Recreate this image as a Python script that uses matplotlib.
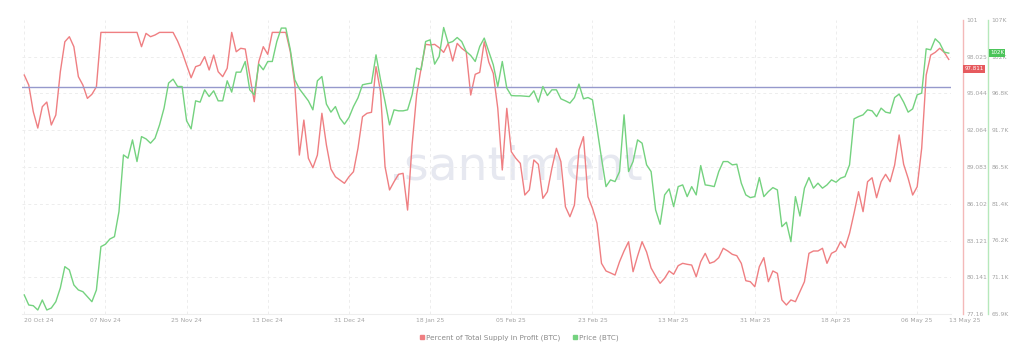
import matplotlib
matplotlib.use("Agg")
import matplotlib.pyplot as plt
from matplotlib.lines import Line2D
import pandas as pd

# ---------------- data ----------------
start_date = "2024-10-20"
n_days = 206

profit_pct = [
    96.54, 95.73, 93.57, 92.24, 93.97, 94.35, 92.49, 93.30, 96.81, 99.24,
    99.65, 98.84, 96.41, 95.73, 94.65, 94.98, 95.59, 100.0, 100.0, 100.0,
    100.0, 100.0, 100.0, 100.0, 100.0, 100.0, 98.84, 99.92, 99.65, 99.79,
    100.0, 100.0, 100.0, 100.0, 99.30, 98.41, 97.35, 96.32, 97.22, 97.35,
    98.03, 96.95, 98.16, 96.81, 96.41, 97.09, 100.0, 98.43, 98.71, 98.65,
    96.54, 94.38, 97.62, 98.84, 98.22, 100.0, 100.0, 100.0, 100.0, 98.43,
    95.73, 90.05, 92.89, 89.79, 89.02, 90.05, 93.44, 90.87, 88.92, 88.29,
    88.03, 87.76, 88.29, 88.70, 90.60, 93.16, 93.44, 93.52, 97.22, 95.19,
    89.11, 87.22, 87.89, 88.49, 88.57, 85.59, 90.87, 94.92, 97.09, 99.03,
    98.98, 99.03, 98.76, 98.38, 99.11, 97.68, 99.11, 98.71, 98.43, 94.92,
    96.60, 96.76, 99.24, 97.60, 96.68, 93.84, 88.84, 93.84, 90.32, 89.79,
    89.38, 86.81, 87.22, 89.65, 89.30, 86.54, 87.08, 88.98, 90.60, 89.51,
    85.86, 85.05, 86.00, 90.46, 91.54, 86.67, 85.73, 84.52, 81.27, 80.65,
    80.49, 80.32, 81.40, 82.27, 83.02, 80.59, 81.86, 83.02, 82.19, 80.89,
    80.24, 79.65, 80.06, 80.65, 80.38, 81.08, 81.27, 81.19, 81.13, 80.18,
    81.40, 82.08, 81.27, 81.40, 81.73, 82.49, 82.27, 82.00, 81.89, 81.27,
    79.86, 79.78, 79.37, 81.00, 81.73, 79.78, 80.65, 80.46, 78.30, 77.89,
    78.30, 78.16, 78.97, 79.78, 82.08, 82.27, 82.27, 82.49, 81.27, 82.08,
    82.27, 83.02, 82.54, 83.70, 85.33, 87.08, 85.46, 87.89, 88.21, 86.59,
    87.89, 88.49, 87.89, 89.24, 91.68, 89.30, 88.16, 86.81, 87.48, 90.60,
    96.54, 98.16, 98.38, 98.71, 98.38, 97.81,
]

price_k = [
    68.56, 67.16, 67.06, 66.46, 67.86, 66.46, 66.74, 67.62, 69.54, 72.52,
    72.06, 69.96, 69.26, 69.02, 68.32, 67.62, 69.26, 75.32, 75.65, 76.39,
    76.71, 80.21, 88.14, 87.68, 90.24, 87.21, 90.70, 90.38, 89.78, 90.48,
    92.34, 94.68, 98.18, 98.73, 97.70, 97.70, 92.90, 91.78, 95.70, 95.52,
    97.24, 96.30, 97.10, 95.70, 95.70, 98.50, 96.92, 99.71, 99.71, 101.20,
    97.24, 96.54, 100.83, 100.04, 101.20, 101.20, 103.99, 105.87, 105.87, 102.83,
    98.64, 97.38, 96.54, 95.70, 94.44, 98.50, 99.10, 95.24, 94.12, 94.90,
    93.28, 92.44, 93.36, 94.90, 96.12, 97.94, 98.08, 98.18, 102.13, 98.64,
    95.60, 92.34, 94.44, 94.30, 94.30, 94.44, 96.54, 100.27, 100.04, 103.99,
    104.23, 100.83, 101.90, 105.95, 103.77, 103.99, 104.55, 103.99, 102.60, 102.04,
    101.20, 103.30, 104.47, 102.60, 100.74, 97.70, 101.20, 97.48, 96.44, 96.40,
    96.40, 96.35, 96.30, 97.10, 95.52, 97.70, 96.44, 97.24, 97.24, 95.98,
    95.70, 95.38, 96.16, 98.04, 95.98, 96.16, 95.84, 91.88, 87.68, 83.71,
    84.65, 84.41, 85.81, 93.74, 85.81, 87.21, 90.24, 89.78, 86.75, 85.81,
    80.45, 78.45, 82.55, 83.39, 80.91, 83.71, 83.95, 82.31, 83.71, 82.55,
    86.65, 83.95, 83.85, 83.71, 85.81, 87.21, 87.21, 86.75, 86.84, 84.19,
    82.55, 82.17, 82.31, 84.97, 82.31, 83.01, 83.57, 83.25, 78.11, 78.73,
    76.01, 82.31, 79.60, 83.49, 84.97, 83.49, 84.19, 83.49, 83.95, 84.65,
    84.32, 84.88, 85.11, 86.75, 93.18, 93.50, 93.74, 94.44, 94.30, 93.50,
    94.68, 94.12, 93.98, 96.16, 96.64, 95.52, 94.12, 94.58, 96.54, 96.78,
    102.97, 102.83, 104.37, 103.77, 102.51, 102.37,
]

reference_level = 95.57

x_tick_dates = ["2024-10-20", "2024-11-07", "2024-11-25", "2024-12-13", "2024-12-31",
                "2025-01-18", "2025-02-05", "2025-02-23", "2025-03-13", "2025-03-31",
                "2025-04-18", "2025-05-06", "2025-05-13"]
x_tick_labels = ["20 Oct 24", "07 Nov 24", "25 Nov 24", "13 Dec 24", "31 Dec 24",
                 "18 Jan 25", "05 Feb 25", "23 Feb 25", "13 Mar 25", "31 Mar 25",
                 "18 Apr 25", "06 May 25", "13 May 25"]

red_ticks = [77.16, 80.141, 83.121, 86.102, 89.083, 92.064, 95.044, 98.025, 101.005]
red_tick_labels = ["77.16", "80.141", "83.121", "86.102", "89.083", "92.064", "95.044", "98.025", "101"]
green_ticks = [65.9, 71.04, 76.18, 81.31, 86.45, 91.59, 96.73, 101.86, 107.0]
green_tick_labels = ["65.9K", "71.1K", "76.2K", "81.4K", "86.5K", "91.7K", "96.8K", "102K", "107K"]

last_profit_label = "97.811"
last_price_label = "102K"

series_names = ["Percent of Total Supply in Profit (BTC)", "Price (BTC)"]

# ---------------- style ----------------
RED = "#ef7f82"
GREEN = "#74d27f"
RED_SPINE = "#f4b9b9"
GREEN_SPINE = "#b6e8bb"
TXT = "#a3a3a3"
GRID = "#ededed"

dates = pd.date_range(start_date, periods=n_days, freq="D")

W, H = 1024, 351
fig = plt.figure(figsize=(W / 100, H / 100), dpi=100)
L, R, T, B = 22, 951, 20, 314
ax = fig.add_axes([L / W, (H - B) / H, (R - L) / W, (B - T) / H])
ax2 = ax.twinx()

# watermark
ax.text(0.532, 0.50, ".santiment", transform=ax.transAxes, ha="center", va="center",
        fontsize=34, color="#e6e8f0", zorder=0, family="DejaVu Sans")

ax.plot(dates, profit_pct, color=RED, lw=1.0, zorder=3)
ax2.plot(dates, price_k, color=GREEN, lw=1.0, zorder=3)
ax.axhline(reference_level, color="#9699cc", lw=1.0, zorder=4)

x0 = dates[0] - pd.Timedelta(hours=12)
x1 = dates[-1] + pd.Timedelta(hours=12)
ax.set_xlim(x0, x1)
ax.set_ylim(red_ticks[0], red_ticks[-1])
ax2.set_ylim(green_ticks[0], green_ticks[-1])

# grid
for v in red_ticks[1:-1]:
    ax.axhline(v, color=GRID, lw=0.7, ls=(0, (3, 3)), zorder=1)
for d in x_tick_dates[:-1]:
    ax.axvline(pd.Timestamp(d), color=GRID, lw=0.7, ls=(0, (3, 3)), zorder=1)

# spines
for a in (ax, ax2):
    a.spines["top"].set_visible(False)
    a.spines["left"].set_visible(False)
    a.spines["bottom"].set_visible(False)
ax.spines["bottom"].set_visible(True)
ax.spines["bottom"].set_color("#eeeeee")
ax.spines["bottom"].set_linewidth(0.8)

ax.yaxis.tick_right()
ax.spines["right"].set_position(("axes", (963 - L) / (R - L)))
ax.spines["right"].set_color(RED_SPINE)
ax.spines["right"].set_linewidth(1.0)
ax2.spines["right"].set_position(("axes", (988 - L) / (R - L)))
ax2.spines["right"].set_color(GREEN_SPINE)
ax2.spines["right"].set_linewidth(1.0)

ax.set_yticks(red_ticks)
ax.set_yticklabels(red_tick_labels)
ax2.set_yticks(green_ticks)
ax2.set_yticklabels(green_tick_labels)
for a in (ax, ax2):
    a.tick_params(axis="y", length=0, pad=2.5, labelsize=4.3, labelcolor=TXT)

ax.set_xticks([pd.Timestamp(d) for d in x_tick_dates])
ax.set_xticklabels(x_tick_labels)
ax.tick_params(axis="x", length=0, pad=3, labelsize=4.3, labelcolor=TXT)
xl = ax.get_xticklabels()
xl[0].set_ha("left")
xl[-1].set_ha("left")

# last-value boxes
fig.text(974 / W, 1 - 69 / H, last_profit_label, ha="center", va="center", fontsize=4.0,
         color="white", bbox=dict(boxstyle="square,pad=0.25", fc="#e65a5e", ec="none"))
fig.text(997 / W, 1 - 53 / H, last_price_label, ha="center", va="center", fontsize=4.0,
         color="white", bbox=dict(boxstyle="square,pad=0.25", fc="#4cc45a", ec="none"))

# legend
handles = [Line2D([], [], marker="s", ls="none", color=RED, markersize=3.5),
           Line2D([], [], marker="s", ls="none", color=GREEN, markersize=3.5)]
leg = fig.legend(handles, series_names, loc="center", bbox_to_anchor=(519 / W, 1 - 338 / H),
                 ncol=2, frameon=False, fontsize=5.2, handletextpad=0.2, columnspacing=1.6,
                 handlelength=0.8)
for t in leg.get_texts():
    t.set_color("#8a8a8a")

fig.savefig("out.png", dpi=100, facecolor="white")
